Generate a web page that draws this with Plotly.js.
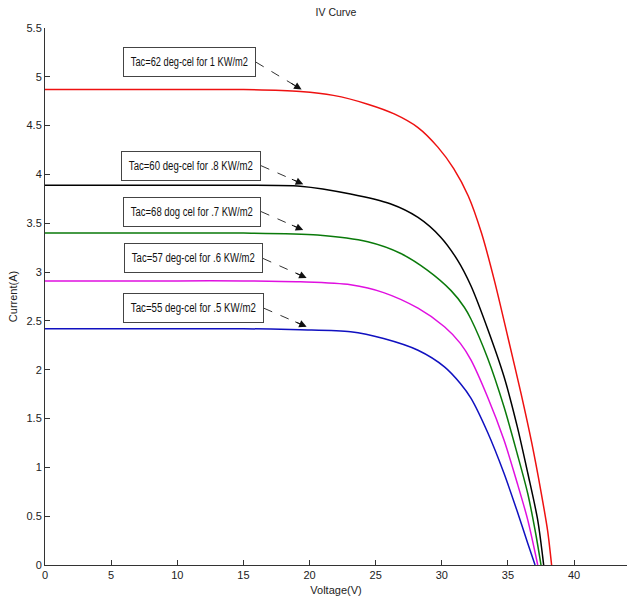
<!DOCTYPE html>
<html>
<head>
<meta charset="utf-8">
<script src="https://cdn.plot.ly/plotly-3.0.1.min.js"></script>
<style>html,body{margin:0;padding:0;background:#fff;}#chart{width:635px;height:608px;}</style>
</head>
<body>
<div id="chart"></div>
<script>
// ---- data ----
const redV = [0, 5, 10, 15, 19.3, 21.8, 24.4, 26.4, 28.2, 29.7, 30.9, 32.0, 33.0, 34.0, 35.0, 36.0, 36.8, 37.5, 38.0, 38.3];
const redI = [4.87, 4.87, 4.87, 4.87, 4.85, 4.81, 4.72, 4.62, 4.48, 4.28, 4.06, 3.78, 3.40, 2.90, 2.33, 1.75, 1.25, 0.75, 0.35, 0];

const blackV = [0, 5, 10, 15, 19.3, 23.1, 26.1, 28.2, 29.9, 31.2, 32.2, 33.46, 34.7, 35.7, 36.5, 37.25, 37.7];
const blackI = [3.89, 3.89, 3.89, 3.89, 3.88, 3.80, 3.70, 3.56, 3.36, 3.12, 2.86, 2.42, 1.93, 1.42, 0.94, 0.46, 0];

const greenV = [0, 5, 10, 15, 20.6, 24.4, 26.9, 28.9, 30.7, 31.7, 32.2, 33.46, 34.7, 35.7, 36.5, 37.1, 37.5];
const greenI = [3.40, 3.40, 3.40, 3.40, 3.38, 3.31, 3.19, 3.02, 2.81, 2.64, 2.52, 2.12, 1.62, 1.14, 0.73, 0.32, 0];

const magentaV = [0, 5, 10, 15, 19.3, 23.1, 25.6, 28.2, 30.2, 31.4, 32.2, 33.46, 34.7, 35.7, 36.5, 37.25];
const magentaI = [2.91, 2.91, 2.91, 2.91, 2.90, 2.87, 2.79, 2.63, 2.44, 2.27, 2.10, 1.72, 1.28, 0.84, 0.46, 0];

const blueV = [0, 5, 10, 15, 19.3, 23.1, 25.6, 28.2, 30.2, 31.4, 32.2, 33.46, 34.7, 35.7, 36.5, 37.05];
const blueI = [2.42, 2.42, 2.42, 2.42, 2.41, 2.39, 2.32, 2.20, 2.03, 1.86, 1.71, 1.36, 0.94, 0.55, 0.22, 0];

const labelTexts = [
  "Tac=62 deg-cel for 1 KW/m2",
  "Tac=60 deg-cel for .8 KW/m2",
  "Tac=68 dog cel for .7 KW/m2",
  "Tac=57 deg-cel for .6 KW/m2",
  "Tac=55 deg-cel for .5 KW/m2"
];
// arrow tips (on curves) and arrow starts (right edge of each label box), data units
const tipV = [19.40, 19.52, 19.52, 19.78, 19.78];
const tipI = [4.87, 3.90, 3.43, 2.94, 2.44];
const startV = [15.95, 16.33, 16.33, 16.48, 16.55];
const startI = [5.15, 4.09, 3.62, 3.14, 2.63];
// inner widths of the label boxes (px)
const boxW = [123, 130, 128, 129, 131];

const xTicks = [0, 5, 10, 15, 20, 25, 30, 35, 40];
const yTicks = [0, 0.5, 1, 1.5, 2, 2.5, 3, 3.5, 4, 4.5, 5, 5.5];

// ---- layout ----
const W = 635, H = 608, ML = 45, MR = 8, MT = 28, MB = 43;
const xMax = 44, yMax = 5.5;
const pxPerV = (W - ML - MR) / xMax;
const pxPerI = (H - MT - MB) / yMax;
const FONT = "'Liberation Sans', Arial, sans-serif";

function series(x, y, color) {
  return {x: x, y: y, type: 'scatter', mode: 'lines',
          line: {color: color, width: 1.5, shape: 'spline', smoothing: 0.8},
          hoverinfo: 'skip', showlegend: false};
}
const traces = [
  series(redV, redI, '#ee1111'),
  series(blackV, blackI, '#000000'),
  series(greenV, greenI, '#0a7a0a'),
  series(magentaV, magentaI, '#e010e0'),
  series(blueV, blueI, '#1010c0')
];

const shapes = [];
const annotations = [];
for (let k = 0; k < labelTexts.length; k++) {
  annotations.push({
    x: startV[k], y: startI[k], xref: 'x', yref: 'y',
    xanchor: 'right', yanchor: 'middle',
    text: labelTexts[k], showarrow: false,
    font: {family: FONT, size: 12, color: '#111'},
    width: boxW[k], height: 20, borderpad: 4,
    bordercolor: '#444', borderwidth: 1, bgcolor: '#fff'
  });
  shapes.push({type: 'line', xref: 'x', yref: 'y',
    x0: startV[k], y0: startI[k], x1: tipV[k], y1: tipI[k],
    line: {color: '#333', width: 1, dash: 'dash'}});
  const dx = (tipV[k] - startV[k]) * pxPerV;
  const dy = -(tipI[k] - startI[k]) * pxPerI;
  const len = Math.sqrt(dx * dx + dy * dy);
  annotations.push({
    x: tipV[k], y: tipI[k], xref: 'x', yref: 'y', text: '',
    showarrow: true, arrowhead: 2, arrowsize: 1.5, arrowwidth: 1, arrowcolor: '#111',
    ax: -dx / len * 14, ay: -dy / len * 14
  });
}

const axisCommon = {
  showgrid: false, zeroline: false, showline: true, linecolor: '#333', linewidth: 1,
  ticks: 'inside', ticklen: 5, tickcolor: '#333', tickwidth: 1,
  tickfont: {family: FONT, size: 11, color: '#222'}, mirror: false, fixedrange: true
};

const layout = {
  width: W, height: H,
  margin: {l: ML, r: MR, t: MT, b: MB, pad: 0},
  paper_bgcolor: '#fff', plot_bgcolor: '#fff',
  title: {text: 'IV Curve', font: {family: FONT, size: 10.5, color: '#222'},
          x: 0.5, xref: 'paper', xanchor: 'center', y: 1 - 12 / H, yref: 'container', yanchor: 'middle'},
  xaxis: Object.assign({}, axisCommon, {
    range: [0, xMax], tickvals: xTicks, ticktext: xTicks.map(String),
    title: {text: 'Voltage(V)', font: {family: FONT, size: 11, color: '#222'}, standoff: 6}
  }),
  yaxis: Object.assign({}, axisCommon, {
    range: [0, yMax], tickvals: yTicks, ticktext: yTicks.map(String),
    title: {text: 'Current(A)', font: {family: FONT, size: 11, color: '#222'}, standoff: 6}
  }),
  shapes: shapes,
  annotations: annotations,
  showlegend: false
};

Plotly.newPlot('chart', traces, layout, {displayModeBar: false, staticPlot: true}).then(function (gd) {
  // condense the label text (the reference uses a narrow face) so it fits the boxes
  const texts = gd.querySelectorAll('.annotation-text');
  texts.forEach(function (t) {
    const s = (t.textContent || '').trim();
    const k = labelTexts.indexOf(s);
    if (k >= 0) {
      t.setAttribute('textLength', String(boxW[k] - 6));
      t.setAttribute('lengthAdjust', 'spacingAndGlyphs');
    }
  });
});
</script>
</body>
</html>
